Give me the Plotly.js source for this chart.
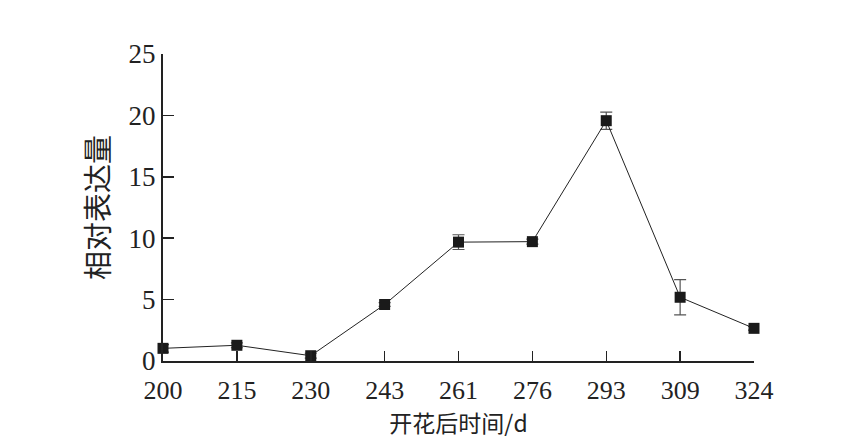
<!DOCTYPE html>
<html>
<head>
<meta charset="utf-8">
<script src="https://cdn.plot.ly/plotly-3.0.1.min.js"></script>
<style>html,body{margin:0;padding:0;background:#fff;}#chart{width:841px;height:446px;}</style>
</head>
<body>
<div id="chart"></div>
<script>
const days = ["200", "215", "230", "243", "261", "276", "293", "309", "324"];
const expression = [1.03, 1.28, 0.43, 4.6, 9.68, 9.72, 19.57, 5.19, 2.66];
const errors = [0.3, 0.2, 0.2, 0.15, 0.6, 0.2, 0.7, 1.44, 0.15];
const yTicks = [0, 5, 10, 15, 20, 25];

const serif = "Liberation Serif, Times New Roman, serif";
const cjk = "Noto Sans CJK SC, sans-serif";

const trace = {
  x: days,
  y: expression,
  type: "scatter",
  mode: "lines+markers",
  cliponaxis: false,
  line: {color: "#222", width: 1},
  marker: {symbol: "square", size: 11, color: "#1a1a1a"},
  error_y: {type: "data", array: errors, visible: true, color: "#555", thickness: 1.2, width: 6}
};

const layout = {
  width: 841, height: 446,
  margin: {l: 163, r: 87, t: 54, b: 85},
  paper_bgcolor: "#fff", plot_bgcolor: "#fff",
  showlegend: false,
  xaxis: {
    type: "category",
    range: [0, 8],
    showgrid: false, zeroline: false,
    showline: true, linecolor: "#222", linewidth: 2,
    ticks: "inside", ticklen: 10, tickwidth: 1.5, tickcolor: "#222",
    ticklabelstandoff: 5,
    tickfont: {family: serif, size: 26, color: "#222"},
    title: {text: "开花后时间/d", font: {family: cjk, size: 23, color: "#222"}, standoff: 10},
    automargin: false
  },
  yaxis: {
    range: [0, 25],
    tickvals: yTicks,
    showgrid: false, zeroline: false,
    showline: true, linecolor: "#222", linewidth: 2,
    ticks: "inside", ticklen: 11, tickwidth: 1.5, tickcolor: "#222",
    tickfont: {family: serif, size: 27, color: "#222"},
    title: {text: "相对表达量", font: {family: cjk, size: 29, color: "#222"}, standoff: 10},
    automargin: false
  }
};

Plotly.newPlot("chart", [trace], layout, {staticPlot: true});
</script>
</body>
</html>
